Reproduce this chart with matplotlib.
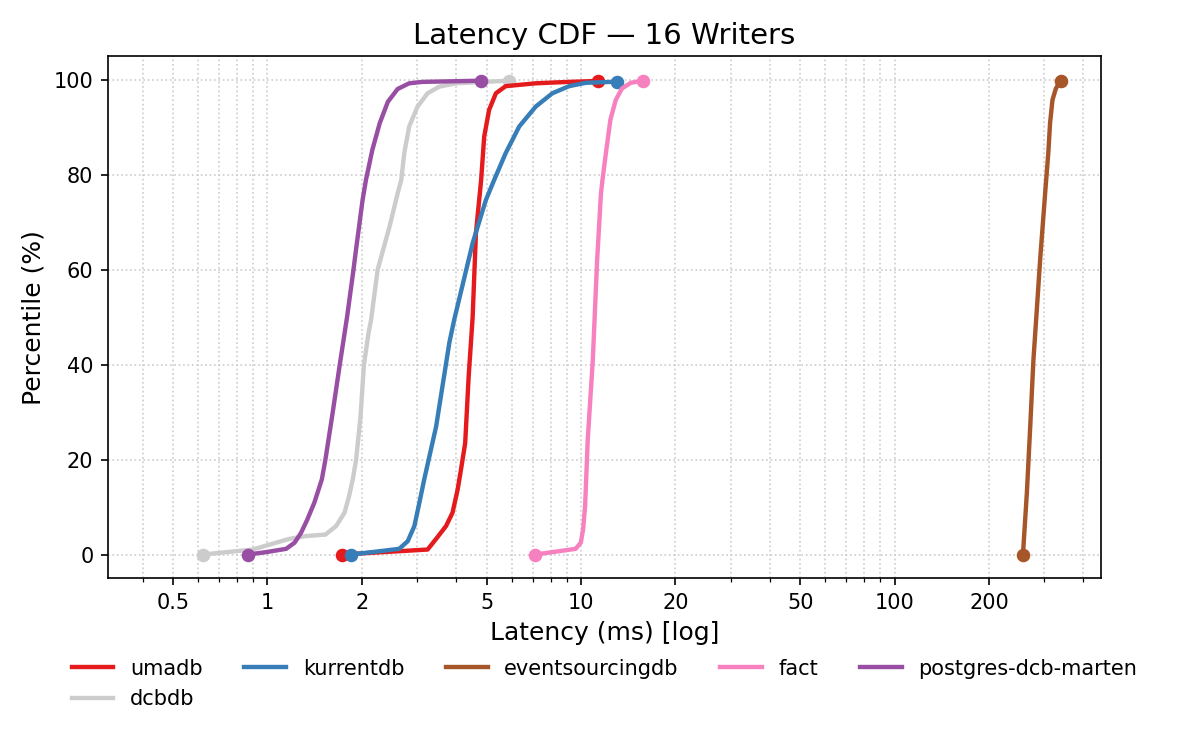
import matplotlib
matplotlib.use('Agg')
import matplotlib.pyplot as plt
from matplotlib.ticker import FixedLocator, FuncFormatter, NullFormatter

#*******************************************************************************
# values (latency in ms, percentile in %)

umadb_ms  = [1.73, 3.24, 3.44, 3.71, 3.89, 4.04, 4.14, 4.27, 4.38, 4.51, 4.62, 4.80, 4.91, 5.09, 5.35, 5.75, 7.17, 9.16, 11.35]
umadb_pct = [0, 1.05, 3.2, 6, 8.8, 13.7, 17.9, 23.5, 37.5, 50, 67.7, 78.9, 88.1, 93.7, 97.2, 98.7, 99.3, 99.6, 99.8]

kurrentdb_ms  = [1.85, 2.28, 2.63, 2.80, 2.94, 3.05, 3.16, 3.45, 3.80, 3.94, 4.51, 4.97, 5.28, 5.75, 6.35, 7.17, 8.10, 9.16, 10.35, 13.05]
kurrentdb_pct = [0, 0.7, 1.2, 2.8, 6, 10.9, 15.8, 27, 44.6, 49.5, 65.6, 74.7, 78.9, 84.6, 90.2, 94.4, 97.2, 98.7, 99.4, 99.65]

eventsourcingdb_ms  = [256.5, 264, 270.6, 277, 284, 291, 303, 309, 313, 318.6, 326.7, 338]
eventsourcingdb_pct = [0, 13, 27, 41, 51.6, 62.1, 77.5, 84.6, 90.9, 95.8, 98.2, 99.8]

fact_ms  = [7.14, 8.5, 9.61, 9.98, 10.15, 10.3, 10.4, 10.5, 10.9, 11.25, 11.57, 11.7, 12.0, 12.4, 12.9, 13.5, 14.4, 15.7]
fact_pct = [0, 0.7, 1.2, 2.5, 5.3, 10.2, 17.2, 24.2, 41, 62, 76, 78.9, 84.6, 91.6, 95.8, 98.2, 99.4, 99.85]

marten_ms  = [0.866, 0.99, 1.147, 1.22, 1.28, 1.34, 1.41, 1.49, 1.53, 1.607, 1.70, 1.795, 1.88, 1.915, 2.01, 2.06, 2.16, 2.28, 2.42, 2.60, 2.83, 3.12, 4.80]
marten_pct = [0, 0.5, 1.2, 2.5, 4.6, 7.4, 10.9, 15.8, 20, 29.1, 40, 50.2, 60, 64.2, 74.7, 78.9, 85.3, 90.9, 95.4, 98.1, 99.3, 99.6, 99.85]

dcbdb_ms  = [0.622, 0.897, 1.066, 1.175, 1.33, 1.53, 1.655, 1.76, 1.82, 1.87, 1.917, 1.98, 2.03, 2.10, 2.14, 2.245, 2.45,
	2.60, 2.67, 2.73, 2.83, 3.01, 3.24, 3.53, 3.99, 5.87]
dcbdb_pct = [0, 1.05, 2.5, 3.3, 3.9, 4.2, 6.0, 8.8, 12.3, 15.8, 20, 29.1, 40, 46.7, 49.5, 60, 69.1,
	76.1, 78.9, 84.6, 90.2, 94.4, 97.2, 98.6, 99.3, 99.85]

names  = ['umadb', 'kurrentdb', 'eventsourcingdb', 'fact', 'postgres-dcb-marten', 'dcbdb']
colors = ['#e41a1c', '#377eb8', '#a65628', '#f781bf', '#984ea3', '#cccccc']
series = [(umadb_ms, umadb_pct), (kurrentdb_ms, kurrentdb_pct),
          (eventsourcingdb_ms, eventsourcingdb_pct), (fact_ms, fact_pct),
          (marten_ms, marten_pct), (dcbdb_ms, dcbdb_pct)]

xticks = [0.5, 1, 2, 5, 10, 20, 50, 100, 200]

#*******************************************************************************

fig = plt.figure(figsize=(8, 5), dpi=150)
ax = fig.add_axes([0.09, 0.229, 0.8275, 0.696])

handles = []
for i, (name, col, (ms, pct)) in enumerate(zip(names, colors, series)):
	z = 2 if name == 'dcbdb' else 3 + i * 0.1
	h, = ax.plot(ms, pct, color=col, lw=2.1, label=name, zorder=z, solid_joinstyle='round')
	ax.plot([ms[0], ms[-1]], [pct[0], pct[-1]], 'o', color=col, ms=5.5, zorder=z)
	handles.append(h)

ax.set_xscale('log')
ax.set_xlim(0.31, 455)
ax.set_ylim(-5, 105)
ax.xaxis.set_major_locator(FixedLocator(xticks))
ax.xaxis.set_major_formatter(FuncFormatter(lambda v, p: f'{v:g}'))
ax.xaxis.set_minor_formatter(NullFormatter())
ax.set_yticks([0, 20, 40, 60, 80, 100])
ax.grid(True, which='both', linestyle=':', color='#cccccc', lw=0.8, zorder=0)
ax.set_axisbelow(True)

ax.set_title('Latency CDF — 16 Writers', fontsize=14)
ax.set_xlabel('Latency (ms) [log]', fontsize=12)
ax.set_ylabel('Percentile (%)', fontsize=12)
ax.tick_params(labelsize=10)

# legend fills column-wise, so put dcbdb second to land on row two
order = [0, 5, 1, 2, 3, 4]
ax.legend([handles[k] for k in order], [names[k] for k in order],
	loc='upper center', bbox_to_anchor=(0.5, -0.118), ncol=5, frameon=False,
	fontsize=10, handlelength=2.0, columnspacing=2.0)

plt.savefig('out.png', dpi=150)
plt.close()
